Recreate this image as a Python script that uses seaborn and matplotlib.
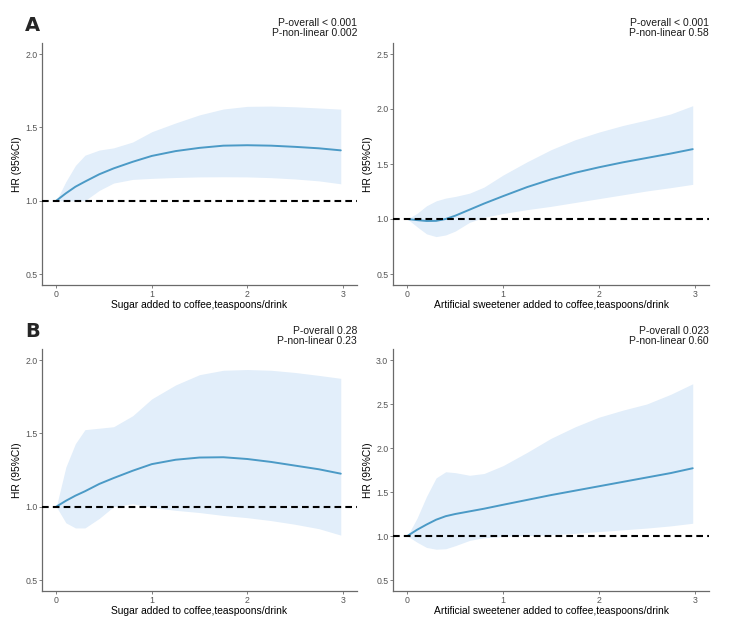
import numpy as np
import pandas as pd
import matplotlib
matplotlib.use("Agg")
import matplotlib.pyplot as plt
import seaborn as sns

# ---------------- data ----------------
# Panel A, sugar
sugA_x = [0, 0.1, 0.2, 0.3, 0.45, 0.6, 0.8, 1.0, 1.25, 1.5, 1.75, 2.0, 2.25, 2.5, 2.75, 2.98]
sugA_hr = [1.0, 1.05, 1.095, 1.13, 1.18, 1.22, 1.265, 1.305, 1.338, 1.36, 1.375, 1.378, 1.375, 1.367, 1.357, 1.343]
sugA_up = [1.0, 1.13, 1.24, 1.31, 1.345, 1.36, 1.40, 1.47, 1.53, 1.585, 1.625, 1.643, 1.645, 1.64, 1.632, 1.624]
sugA_lo = [1.0, 0.998, 0.998, 1.0, 1.07, 1.12, 1.145, 1.152, 1.158, 1.162, 1.163, 1.162, 1.157, 1.148, 1.135, 1.115]

# Panel A, artificial sweetener
swA_x = [0, 0.1, 0.2, 0.3, 0.4, 0.5, 0.65, 0.8, 1.0, 1.25, 1.5, 1.75, 2.0, 2.25, 2.5, 2.75, 2.98]
swA_hr = [1.0, 0.99, 0.982, 0.983, 1.0, 1.03, 1.085, 1.14, 1.208, 1.29, 1.36, 1.42, 1.47, 1.515, 1.555, 1.595, 1.635]
swA_up = [1.0, 1.05, 1.12, 1.165, 1.19, 1.205, 1.235, 1.29, 1.40, 1.52, 1.63, 1.72, 1.79, 1.85, 1.90, 1.955, 2.03]
swA_lo = [1.0, 0.93, 0.865, 0.84, 0.855, 0.89, 0.97, 1.015, 1.05, 1.085, 1.115, 1.15, 1.185, 1.22, 1.255, 1.285, 1.315]

# Panel B, sugar
sugB_x = [0, 0.1, 0.2, 0.3, 0.45, 0.6, 0.8, 1.0, 1.25, 1.5, 1.75, 2.0, 2.25, 2.5, 2.75, 2.98]
sugB_hr = [1.0, 1.04, 1.075, 1.105, 1.155, 1.195, 1.245, 1.29, 1.32, 1.335, 1.337, 1.325, 1.305, 1.28, 1.255, 1.225]
sugB_up = [1.0, 1.27, 1.43, 1.525, 1.535, 1.545, 1.62, 1.735, 1.83, 1.9, 1.93, 1.935, 1.93, 1.915, 1.895, 1.875]
sugB_lo = [1.0, 0.89, 0.855, 0.855, 0.92, 1.0, 1.02, 0.995, 0.975, 0.96, 0.94, 0.925, 0.905, 0.88, 0.85, 0.806]

# Panel B, artificial sweetener
swB_x = [0, 0.1, 0.2, 0.3, 0.4, 0.5, 0.65, 0.8, 1.0, 1.25, 1.5, 1.75, 2.0, 2.25, 2.5, 2.75, 2.98]
swB_hr = [1.0, 1.07, 1.13, 1.185, 1.225, 1.25, 1.28, 1.31, 1.355, 1.41, 1.465, 1.515, 1.565, 1.615, 1.665, 1.715, 1.77]
swB_up = [1.0, 1.2, 1.45, 1.66, 1.73, 1.72, 1.69, 1.71, 1.8, 1.95, 2.11, 2.24, 2.35, 2.43, 2.5, 2.61, 2.73]
swB_lo = [1.0, 0.93, 0.87, 0.85, 0.855, 0.89, 0.95, 0.98, 0.995, 1.005, 1.015, 1.03, 1.05, 1.07, 1.09, 1.115, 1.145]

x_ticks = [0, 1, 2, 3]
xlab_sugar = "Sugar added to coffee,teaspoons/drink"
xlab_sweet = "Artificial sweetener added to coffee,teaspoons/drink"
ylab = "HR (95%CI)"
p_texts = [
    ("P-overall < 0.001", "P-non-linear 0.002"),
    ("P-overall < 0.001", "P-non-linear 0.58"),
    ("P-overall 0.28", "P-non-linear 0.23"),
    ("P-overall 0.023", "P-non-linear 0.60"),
]
y_ticks = [[0.5, 1.0, 1.5, 2.0], [0.5, 1.0, 1.5, 2.0, 2.5],
           [0.5, 1.0, 1.5, 2.0], [0.5, 1.0, 1.5, 2.0, 2.5, 3.0]]
y_lims = [(0.425, 2.075), (0.4, 2.6), (0.425, 2.075), (0.375, 3.125)]

# ---------------- style ----------------
sns.set_theme(style="ticks")
plt.rcParams['font.family'] = ['Liberation Sans', 'DejaVu Sans']

LINE_C = "#4b9ac6"
FILL_C = "#e2eefa"
TXT_GRAY = "#555555"
SPINE_C = "#6a6a6a"

W, H = 732, 629
fig = plt.figure(figsize=(W / 100, H / 100), dpi=100)


def axpos(l, t, r, b):
    return [l / W, 1 - b / H, (r - l) / W, (b - t) / H]


boxes = [(42, 43, 357, 285), (393, 43, 709, 285),
         (42, 349, 357, 591), (393, 349, 709, 591)]
datasets = [(sugA_x, sugA_hr, sugA_lo, sugA_up),
            (swA_x, swA_hr, swA_lo, swA_up),
            (sugB_x, sugB_hr, sugB_lo, sugB_up),
            (swB_x, swB_hr, swB_lo, swB_up)]
xlabels = [xlab_sugar, xlab_sweet, xlab_sugar, xlab_sweet]
text_offsets = [(20.5, 10), (20.5, 10), (18, 7.5), (18, 7.5)]

for i, (box, (xs, hr, lo, up)) in enumerate(zip(boxes, datasets)):
    ax = fig.add_axes(axpos(*box))
    df = pd.DataFrame({"x": xs, "hr": hr, "lo": lo, "up": up})
    ax.fill_between(df["x"], df["lo"], df["up"], color=FILL_C, lw=0, zorder=1)
    sns.lineplot(data=df, x="x", y="hr", ax=ax, color=LINE_C, lw=1.4, zorder=3)
    ax.axhline(1.0, color="black", lw=1.5, ls=(0, (3.2, 2.0)), zorder=4)

    ax.set_xlim(-0.15, 3.15)
    ax.set_ylim(*y_lims[i])
    ax.set_xticks(x_ticks)
    ax.set_xticklabels([str(t) for t in x_ticks])
    ax.set_yticks(y_ticks[i])
    ax.set_yticklabels([f"{t:.1f}" for t in y_ticks[i]])
    ax.tick_params(axis="both", length=2.2, width=0.6, color=SPINE_C,
                   labelsize=6.3, labelcolor=TXT_GRAY, pad=1.2, direction="out")
    for s in ["top", "right"]:
        ax.spines[s].set_visible(False)
    for s in ["left", "bottom"]:
        ax.spines[s].set_color(SPINE_C)
        ax.spines[s].set_linewidth(0.9)
    ax.set_xlabel(xlabels[i], fontsize=7.4, color="black", labelpad=1.2)
    ax.set_ylabel(ylab, fontsize=7.4, color="black", labelpad=2.5)
    ax.grid(False)

    off1, off2 = text_offsets[i]
    ax.annotate(p_texts[i][0], xy=(1, 1), xycoords="axes fraction",
                xytext=(0, off1 * 0.72), textcoords="offset points",
                ha="right", va="center", fontsize=7.5, color="#1a1a1a")
    ax.annotate(p_texts[i][1], xy=(1, 1), xycoords="axes fraction",
                xytext=(0, off2 * 0.72), textcoords="offset points",
                ha="right", va="center", fontsize=7.5, color="#1a1a1a")

fig.text(25 / W, 1 - 31 / H, "A", fontsize=14, fontweight="heavy",
         family="DejaVu Sans", va="baseline", ha="left")
fig.text(25 / W, 1 - 337 / H, "B", fontsize=14, fontweight="heavy",
         family="DejaVu Sans", va="baseline", ha="left")

fig.savefig("out.png", dpi=100, facecolor="white")
